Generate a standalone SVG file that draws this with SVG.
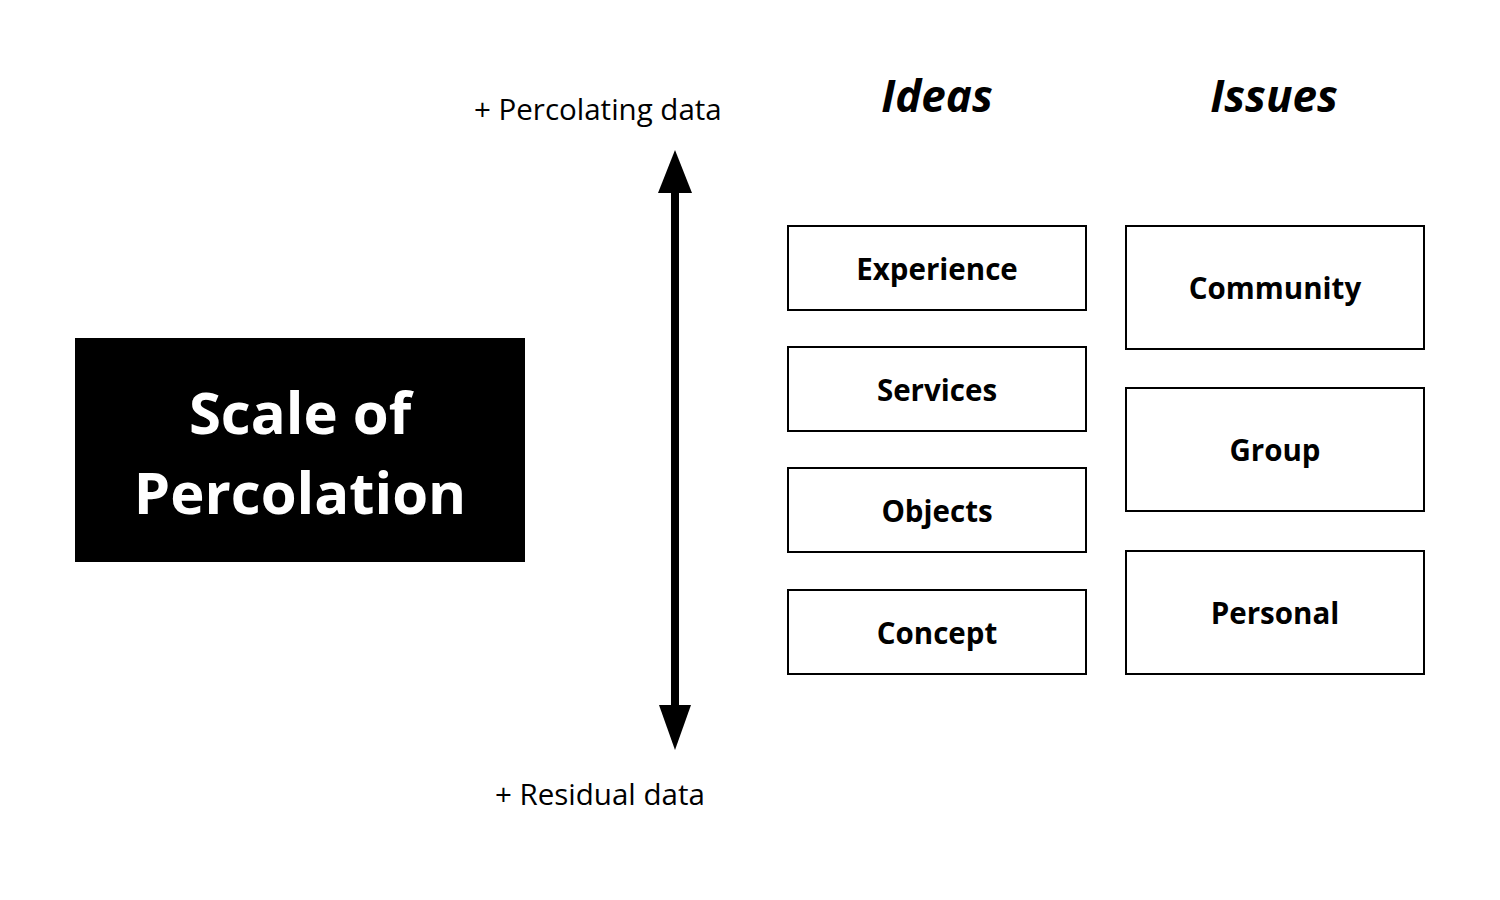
<svg xmlns="http://www.w3.org/2000/svg" width="1500" height="900" viewBox="0 0 1500 900">
<defs>
<style>
.box{fill:#fff;stroke:#000;stroke-width:2}
.lbl{font-family:"Open Sans","Noto Sans",sans-serif;font-weight:bold;font-size:29.5px;fill:#000;text-anchor:middle}
.hd{font-family:"Open Sans","Noto Sans",sans-serif;font-weight:bold;font-style:italic;font-size:44px;fill:#000;text-anchor:middle}
.ax{font-family:"Open Sans","Noto Sans",sans-serif;font-size:29.5px;fill:#000}
.title{font-family:"Open Sans","Noto Sans",sans-serif;font-weight:bold;font-size:58px;fill:#fff;text-anchor:middle}
</style>
</defs>
<rect width="1500" height="900" fill="#fff"/>
<g id="title-node">
<rect x="75" y="338" width="450" height="224" fill="#000"/>
<text class="title" x="300" y="434">Scale of</text>
<text class="title" x="300" y="514">Percolation</text>
</g>
<g id="connectors">
<line x1="675" y1="190" x2="675" y2="710" stroke="#000" stroke-width="8"/>
<polygon points="675,150 692,193 658,193" fill="#000"/>
<polygon points="675,750 691,705 659,705" fill="#000"/>
</g>
<g id="axis-labels">
<text class="ax" x="474" y="120">+ Percolating data</text>
<text class="ax" x="495" y="805">+ Residual data</text>
</g>
<g id="ideas-header"><text class="hd" x="937" y="112">Ideas</text></g>
<g id="issues-header"><text class="hd" x="1274" y="112">Issues</text></g>
<g id="experience"><rect class="box" x="788" y="226" width="298" height="84"/><text class="lbl" x="937" y="280">Experience</text></g>
<g id="services"><rect class="box" x="788" y="347" width="298" height="84"/><text class="lbl" x="937" y="401">Services</text></g>
<g id="objects"><rect class="box" x="788" y="468" width="298" height="84"/><text class="lbl" x="937" y="522">Objects</text></g>
<g id="concept"><rect class="box" x="788" y="590" width="298" height="84"/><text class="lbl" x="937" y="644">Concept</text></g>
<g id="community"><rect class="box" x="1126" y="226" width="298" height="123"/><text class="lbl" x="1275" y="299">Community</text></g>
<g id="group"><rect class="box" x="1126" y="388" width="298" height="123"/><text class="lbl" x="1275" y="461">Group</text></g>
<g id="personal"><rect class="box" x="1126" y="551" width="298" height="123"/><text class="lbl" x="1275" y="624">Personal</text></g>
</svg>
